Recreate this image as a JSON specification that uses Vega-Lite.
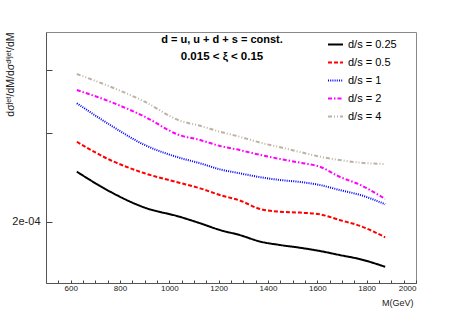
{
  "$schema": "https://vega.github.io/schema/vega-lite/v6.json",
  "width": 370,
  "height": 251,
  "autosize": {"type": "none"},
  "padding": {"left": 46, "top": 32, "right": 47, "bottom": 33},
  "background": "white",
  "title": {
    "text": "d = u, u + d + s = const.",
    "subtitle": "0.015 < ξ < 0.15",
    "anchor": "middle",
    "offset": -30,
    "dx": -9,
    "font": "Liberation Sans",
    "fontSize": 11,
    "fontWeight": "bold",
    "color": "black",
    "subtitleFont": "Liberation Sans",
    "subtitleFontSize": 11.5,
    "subtitleFontWeight": "bold",
    "subtitleColor": "black",
    "subtitlePadding": 6
  },
  "data": {"values": [
    {"M": 625, "v": 2.515e-4, "s": "d/s = 0.25"},
    {"M": 760, "v": 2.296e-4, "s": "d/s = 0.25"},
    {"M": 900, "v": 2.135e-4, "s": "d/s = 0.25"},
    {"M": 1040, "v": 2.049e-4, "s": "d/s = 0.25"},
    {"M": 1125, "v": 1.988e-4, "s": "d/s = 0.25"},
    {"M": 1205, "v": 1.928e-4, "s": "d/s = 0.25"},
    {"M": 1285, "v": 1.884e-4, "s": "d/s = 0.25"},
    {"M": 1370, "v": 1.828e-4, "s": "d/s = 0.25"},
    {"M": 1450, "v": 1.800e-4, "s": "d/s = 0.25"},
    {"M": 1530, "v": 1.778e-4, "s": "d/s = 0.25"},
    {"M": 1610, "v": 1.752e-4, "s": "d/s = 0.25"},
    {"M": 1690, "v": 1.720e-4, "s": "d/s = 0.25"},
    {"M": 1775, "v": 1.687e-4, "s": "d/s = 0.25"},
    {"M": 1875, "v": 1.630e-4, "s": "d/s = 0.25"},
    {"M": 625, "v": 2.883e-4, "s": "d/s = 0.5"},
    {"M": 760, "v": 2.653e-4, "s": "d/s = 0.5"},
    {"M": 900, "v": 2.497e-4, "s": "d/s = 0.5"},
    {"M": 1040, "v": 2.392e-4, "s": "d/s = 0.5"},
    {"M": 1125, "v": 2.331e-4, "s": "d/s = 0.5"},
    {"M": 1205, "v": 2.261e-4, "s": "d/s = 0.5"},
    {"M": 1285, "v": 2.206e-4, "s": "d/s = 0.5"},
    {"M": 1370, "v": 2.120e-4, "s": "d/s = 0.5"},
    {"M": 1450, "v": 2.096e-4, "s": "d/s = 0.5"},
    {"M": 1530, "v": 2.087e-4, "s": "d/s = 0.5"},
    {"M": 1610, "v": 2.071e-4, "s": "d/s = 0.5"},
    {"M": 1690, "v": 2.018e-4, "s": "d/s = 0.5"},
    {"M": 1775, "v": 1.963e-4, "s": "d/s = 0.5"},
    {"M": 1875, "v": 1.865e-4, "s": "d/s = 0.5"},
    {"M": 625, "v": 3.436e-4, "s": "d/s = 1"},
    {"M": 760, "v": 3.112e-4, "s": "d/s = 1"},
    {"M": 900, "v": 2.841e-4, "s": "d/s = 1"},
    {"M": 1040, "v": 2.681e-4, "s": "d/s = 1"},
    {"M": 1125, "v": 2.613e-4, "s": "d/s = 1"},
    {"M": 1205, "v": 2.542e-4, "s": "d/s = 1"},
    {"M": 1285, "v": 2.497e-4, "s": "d/s = 1"},
    {"M": 1370, "v": 2.452e-4, "s": "d/s = 1"},
    {"M": 1450, "v": 2.421e-4, "s": "d/s = 1"},
    {"M": 1530, "v": 2.400e-4, "s": "d/s = 1"},
    {"M": 1610, "v": 2.367e-4, "s": "d/s = 1"},
    {"M": 1690, "v": 2.314e-4, "s": "d/s = 1"},
    {"M": 1775, "v": 2.261e-4, "s": "d/s = 1"},
    {"M": 1875, "v": 2.168e-4, "s": "d/s = 1"},
    {"M": 625, "v": 3.650e-4, "s": "d/s = 2"},
    {"M": 760, "v": 3.461e-4, "s": "d/s = 2"},
    {"M": 900, "v": 3.232e-4, "s": "d/s = 2"},
    {"M": 1040, "v": 2.973e-4, "s": "d/s = 2"},
    {"M": 1125, "v": 2.906e-4, "s": "d/s = 2"},
    {"M": 1205, "v": 2.828e-4, "s": "d/s = 2"},
    {"M": 1285, "v": 2.776e-4, "s": "d/s = 2"},
    {"M": 1370, "v": 2.714e-4, "s": "d/s = 2"},
    {"M": 1450, "v": 2.665e-4, "s": "d/s = 2"},
    {"M": 1530, "v": 2.620e-4, "s": "d/s = 2"},
    {"M": 1610, "v": 2.573e-4, "s": "d/s = 2"},
    {"M": 1690, "v": 2.458e-4, "s": "d/s = 2"},
    {"M": 1775, "v": 2.367e-4, "s": "d/s = 2"},
    {"M": 1875, "v": 2.221e-4, "s": "d/s = 2"},
    {"M": 625, "v": 3.926e-4, "s": "d/s = 4"},
    {"M": 760, "v": 3.707e-4, "s": "d/s = 4"},
    {"M": 900, "v": 3.461e-4, "s": "d/s = 4"},
    {"M": 1040, "v": 3.177e-4, "s": "d/s = 4"},
    {"M": 1125, "v": 3.100e-4, "s": "d/s = 4"},
    {"M": 1205, "v": 3.018e-4, "s": "d/s = 4"},
    {"M": 1285, "v": 2.950e-4, "s": "d/s = 4"},
    {"M": 1370, "v": 2.870e-4, "s": "d/s = 4"},
    {"M": 1450, "v": 2.811e-4, "s": "d/s = 4"},
    {"M": 1530, "v": 2.751e-4, "s": "d/s = 4"},
    {"M": 1610, "v": 2.694e-4, "s": "d/s = 4"},
    {"M": 1690, "v": 2.653e-4, "s": "d/s = 4"},
    {"M": 1775, "v": 2.620e-4, "s": "d/s = 4"},
    {"M": 1875, "v": 2.605e-4, "s": "d/s = 4"}
  ]},
  "layer": [
    {
      "mark": {"type": "line", "strokeWidth": 2, "interpolate": "monotone", "clip": true},
      "encoding": {
        "x": {
          "field": "M", "type": "quantitative",
          "scale": {"domain": [500, 2000], "nice": false, "zero": false},
          "axis": {
            "values": [550, 600, 650, 700, 750, 800, 850, 900, 950, 1000, 1050, 1100, 1150, 1200, 1250, 1300, 1350, 1400, 1450, 1500, 1550, 1600, 1650, 1700, 1750, 1800, 1850, 1900, 1950, 2000],
            "labelExpr": "datum.value % 200 == 0 ? datum.label : ''",
            "format": "d",
            "tickSize": -3,
            "tickColor": "#444",
            "domainColor": "#555",
            "labelFont": "Liberation Sans",
            "labelFontSize": 8,
            "labelColor": "#222",
            "labelPadding": 4,
            "grid": false,
            "title": "M(GeV)",
            "titleFont": "Liberation Sans",
            "titleFontSize": 9,
            "titleFontWeight": "normal",
            "titleColor": "#222",
            "titleX": 367,
            "titleAlign": "right",
            "titleY": 15,
            "titleBaseline": "top"
          }
        },
        "y": {
          "field": "v", "type": "quantitative",
          "scale": {"type": "log", "domain": [1.514e-4, 4.755e-4], "nice": false},
          "axis": {
            "values": [2e-4, 3e-4, 4e-4],
            "labelExpr": "datum.value < 2.5e-4 ? '2e-04' : ''",
            "tickSize": -6,
            "tickColor": "#444",
            "domainColor": "#555",
            "labelFont": "Liberation Sans",
            "labelFontSize": 11,
            "labelColor": "#222",
            "labelPadding": 12,
            "grid": false,
            "title": "dσʲᵉᵗ/dM/dσᵈⁱʲᵉᵗ/dM",
            "titleFont": "Liberation Sans, DejaVu Sans",
            "titleFontSize": 10.5,
            "titleFontWeight": "normal",
            "titleColor": "#222",
            "titleAngle": -90,
            "titleX": -36,
            "titleY": 0,
            "titleAlign": "right",
            "titleBaseline": "middle"
          }
        },
        "color": {
          "field": "s", "type": "nominal",
          "scale": {"domain": ["d/s = 0.25", "d/s = 0.5", "d/s = 1", "d/s = 2", "d/s = 4"],
                    "range": ["#000000", "#ff0000", "#0000ff", "#ff00ff", "#bdb2a4"]},
          "legend": {"orient": "none", "legendX": 281, "legendY": 4, "title": null,
                     "symbolType": "stroke", "symbolSize": 225, "symbolStrokeWidth": 2,
                     "labelFont": "Liberation Sans", "labelFontSize": 11, "labelColor": "black",
                     "rowPadding": 4, "padding": 0, "labelOffset": 4}
        },
        "strokeDash": {
          "field": "s", "type": "nominal",
          "scale": {"domain": ["d/s = 0.25", "d/s = 0.5", "d/s = 1", "d/s = 2", "d/s = 4"],
                    "range": [[1, 0], [4, 2], [1, 1.2], [4, 2, 1.5, 2], [4, 2, 1, 2, 1, 2]]},
          "legend": {"orient": "none", "legendX": 281, "legendY": 4, "title": null,
                     "symbolType": "stroke", "symbolSize": 225, "symbolStrokeWidth": 2,
                     "labelFont": "Liberation Sans", "labelFontSize": 11, "labelColor": "black",
                     "rowPadding": 4, "padding": 0, "labelOffset": 4}
        }
      }
    }
  ],
  "config": {
    "view": {"stroke": "#888", "strokeWidth": 1},
    "axis": {"domainWidth": 1, "tickWidth": 1}
  }
}
